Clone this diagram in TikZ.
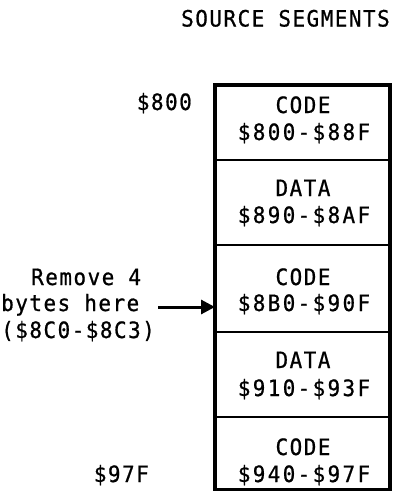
\documentclass[tikz,border=0pt]{standalone}
\usepackage{fontspec}
\newfontfamily\monof[LetterSpace=6.7,FakeStretch=0.93,FakeBold=0.8]{DejaVu Sans Mono}
\newfontfamily\monow[LetterSpace=10.5,FakeStretch=0.93,FakeBold=0.8]{DejaVu Sans Mono}
\usetikzlibrary{arrows.meta}
\begin{document}
\begin{tikzpicture}[x=1pt,y=-1pt,
  txt/.style={font=\monof\fontsize{22.5}{26}\selectfont, inner sep=0pt, anchor=base},
  rng/.style={txt, font=\monow\fontsize{22.5}{26}\selectfont},
  seg/.style={draw, line width=2.6pt, minimum width=175pt, inner sep=0pt, outer sep=0pt},
  arr/.style={line width=3pt, -{Triangle[length=14pt,width=14pt]}}]
\useasboundingbox (0,0) rectangle (396,491);

% title
\node[txt, anchor=base west] (title) at (181,26.5) {SOURCE SEGMENTS};

% segments
\node[seg, minimum height=75pt] (s1) at (302.5,122.5) {};
\node[seg, minimum height=85pt] (s2) at (302.5,202.5) {};
\node[seg, minimum height=87pt] (s3) at (302.5,288.5) {};
\node[seg, minimum height=85pt] (s4) at (302.5,374.5) {};
\node[seg, minimum height=73pt] (s5) at (302.5,453.5) {};
\draw[line width=3.4pt] (s1.north west) rectangle (s5.south east);

% segment texts
\node[txt] (t1a) at (303,113) {CODE};
\node[rng] (t1b) at (304,140) {\$800-\$88F};
\node[txt] (t2a) at (303,196) {DATA};
\node[rng] (t2b) at (304,223) {\$890-\$8AF};
\node[txt] (t3a) at (303,285) {CODE};
\node[rng] (t3b) at (304,311) {\$8B0-\$90F};
\node[txt] (t4a) at (303,368) {DATA};
\node[rng] (t4b) at (304,396) {\$910-\$93F};
\node[txt] (t5a) at (303,455) {CODE};
\node[rng] (t5b) at (304,482) {\$940-\$97F};

% address labels
\node[txt, anchor=base east] (a800) at (192,110) {\$800};
\node[txt, anchor=base east] (a97f) at (149,482) {\$97F};

% remove note
\node[txt, anchor=base west] (rm1) at (31,285) {Remove 4};
\node[txt, anchor=base west] (rm2) at (1,311) {bytes here};
\node[txt, anchor=base west] (rm3) at (1,338) {(\$8C0-\$8C3)};

\coordinate (arrstart) at (158,307);
\draw[arr] (arrstart) -- (s3.west |- arrstart);
\end{tikzpicture}
\end{document}
